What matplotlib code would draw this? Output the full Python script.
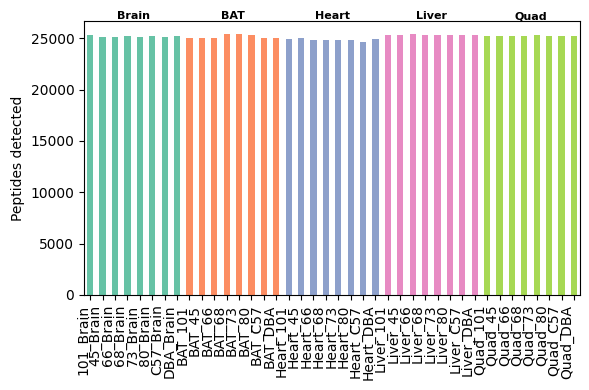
import matplotlib
matplotlib.use("Agg")
import matplotlib.pyplot as plt
import numpy as np

groups = ["Brain", "BAT", "Heart", "Liver", "Quad"]
strains = ["101", "45", "66", "68", "73", "80", "C57", "DBA"]
labels = ([f"{s}_Brain" for s in strains] + [f"BAT_{s}" for s in strains] +
          [f"Heart_{s}" for s in strains] + [f"Liver_{s}" for s in strains] +
          [f"Quad_{s}" for s in strains])

brain = [25300, 25180, 25180, 25190, 25180, 25190, 25180, 25190]
bat = [25000, 25010, 25000, 25420, 25420, 25380, 25000, 25000]
heart = [24900, 25000, 24800, 24820, 24810, 24800, 24620, 24900]
liver = [25300, 25290, 25390, 25290, 25380, 25300, 25290, 25300]
quad = [25190, 25200, 25190, 25200, 25300, 25190, 25200, 25190]

values = brain + bat + heart + liver + quad
colors_map = ["#66c2a5", "#fc8d62", "#8da0cb", "#e78ac3", "#a6d854"]
colors = [c for c in colors_map for _ in strains]

fig = plt.figure(figsize=(5.89, 3.9), dpi=100)
ax = fig.add_axes([0.1426, 0.244, 0.8424, 0.702])
x = np.arange(len(values))
ax.bar(x, values, width=0.5, color=colors)
ax.set_xlim(-0.5, len(values) - 0.5)
ax.set_ylim(0, max(values) * 1.05)
ax.set_xticks(x)
ax.set_xticklabels(labels, rotation=90, ha="right", fontsize=10)
ax.set_ylabel("Peptides detected", fontsize=10)

n = len(strains)
for i, g in enumerate(groups):
    cx = i * n + (n - 1) / 2
    ax.text(cx, 1.0, g, transform=ax.get_xaxis_transform(), ha="center",
            va="bottom", fontsize=8, fontweight="bold")

fig.savefig("out.png", dpi=100)
